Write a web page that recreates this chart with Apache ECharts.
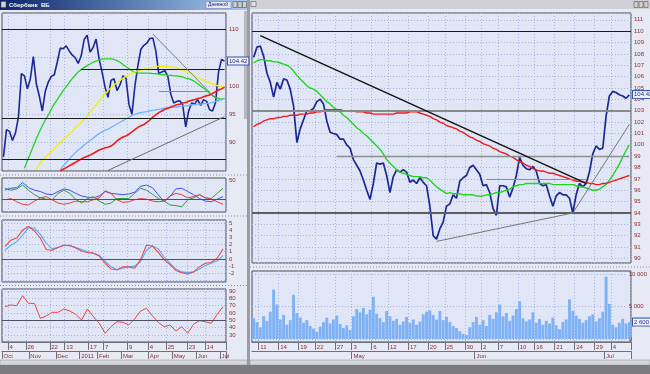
<!DOCTYPE html>
<html>
<head>
<meta charset="utf-8">
<script src="https://cdn.jsdelivr.net/npm/echarts@6/dist/echarts.min.js"></script>
<style>
html,body{margin:0;padding:0;background:#e6e9f4;overflow:hidden}
#chart{width:650px;height:374px}
</style>
</head>
<body>
<div id="chart"></div>
<script>
// ================= DATA =================
// Left window: daily, Oct 2010 - Jul 2011 (one point ~ 2.5 trading days)
const leftPrice = [87.5,92.3,92.0,90.4,91.7,94.5,102.2,101.8,99.5,101.3,
105.2,100.4,98.2,95.6,99.1,100.7,101.7,102.0,104.2,106.7,
106.6,107.1,106.2,105.5,105.0,104.0,105.3,108.2,109.0,106.0,
106.8,108.3,104.8,102.5,99.8,98.0,101.0,101.3,99.2,100.2,
101.8,101.4,96.8,95.0,100.0,103.6,106.5,107.2,107.6,108.4,
108.5,106.2,102.2,102.5,102.7,101.8,98.6,97.0,97.3,97.4,
96.7,92.8,95.6,97.0,96.8,97.6,96.6,97.6,97.3,95.8,
95.6,97.1,102.5,104.7,104.4];
const leftMaGreen = [null,null,null,null,null,null,null,
85.5,86.8,88.1,89.4,90.7,91.9,93.0,94.0,94.9,95.9,
96.8,97.6,98.4,99.2,99.9,100.6,101.3,101.9,102.5,102.9,
103.3,103.6,103.9,104.2,104.4,104.6,104.8,104.8,104.8,104.8,
104.7,104.5,104.2,103.8,103.4,103.1,102.7,102.4,102.3,102.3,
102.3,102.3,102.3,102.2,102.2,102.1,102.0,102.0,101.9,101.9,
101.8,101.8,101.7,101.6,101.4,101.3,101.1,100.8,100.4,100.0,
99.6,99.2,98.7,98.3,98.0,97.8,97.7,97.8];
const leftMaYellow = [null,null,null,null,null,null,null,null,null,null,null,
85.3,86.2,86.9,87.4,87.9,88.4,88.9,89.5,90.0,90.5,
91.0,91.5,92.0,92.6,93.1,93.6,94.1,94.7,95.4,96.0,
96.7,97.3,98.0,98.6,99.2,99.7,100.2,100.6,101.0,101.4,
101.7,102.0,102.3,102.5,102.7,102.8,103.0,103.1,103.2,103.3,
103.4,103.5,103.5,103.5,103.4,103.4,103.3,103.2,103.0,102.8,
102.6,102.4,102.2,101.9,101.6,101.3,101.0,100.8,100.6,100.4,
100.2,100.0,99.9,99.8];
const leftMaBlue = [null,null,null,null,null,null,null,null,null,null,
null,null,null,null,null,null,null,null,null,
85.2,85.9,86.5,87.1,87.7,88.2,88.7,89.1,89.6,90.0,
90.4,90.8,91.2,91.6,91.9,92.2,92.4,92.7,93.0,93.3,
93.6,93.9,94.2,94.5,94.8,95.0,95.2,95.3,95.4,95.5,
95.6,95.7,95.8,95.9,96.0,96.1,96.2,96.2,96.3,96.3,
96.4,96.5,96.5,96.6,96.7,96.7,96.8,96.8,96.9,96.9,
97.0,97.1,97.3,97.5,97.6,97.8];
const leftMaRed = [null,null,null,null,null,null,null,null,null,null,
null,null,null,null,null,null,null,null,null,
85.0,85.3,85.6,85.9,86.2,86.5,86.8,87.1,87.4,87.6,
87.8,88.1,88.4,88.7,88.9,89.1,89.2,89.4,89.8,90.3,
90.7,91.0,91.2,91.5,91.9,92.3,92.7,93.0,93.2,93.6,
94.0,94.5,94.9,95.3,95.6,95.9,96.1,96.3,96.5,96.7,
96.8,97.0,97.1,97.3,97.5,97.6,97.8,97.9,98.1,98.3,
98.4,98.7,99.0,99.3,99.5,99.8];
const leftLast = 104.42;

// Left indicators (one point ~ 5 trading days)
const ind1Blue  = [34,37,38,46,38,34,32,28,27,32,36,34,29,25,23,22,25,32,29,28,27,28,31,40,42,38,27,16,24,36,37,32,27,21,17,16,20,24];
const ind1Green = [37,34,36,42,34,27,22,20,19,29,34,29,20,14,21,24,17,12,14,21,21,21,29,37,34,28,21,17,11,10,8,19,22,27,22,21,29,37];
const ind1Red   = [19,21,16,12,11,17,22,24,19,14,12,14,17,16,16,19,22,33,29,19,15,16,19,21,20,17,16,17,25,29,27,22,24,27,22,20,16,12];
const ind2Red  = [1.7,2.6,2.9,4.0,4.5,3.9,2.9,1.3,1.2,1.6,1.9,1.9,1.5,1.1,0.9,0.8,0.4,-0.6,-1.4,-1.5,-1.1,-1.1,-1.3,-0.1,1.9,1.8,0.9,-0.1,-0.8,-1.6,-1.9,-2.1,-1.8,-1.1,-0.6,-0.5,0.1,1.4];
const ind2Blue = [1.2,1.9,2.4,3.3,4.3,4.3,3.4,2.2,1.4,1.6,1.9,1.8,1.6,1.3,1.0,0.8,0.5,-0.3,-1.1,-1.5,-1.3,-1.1,-1.0,-0.4,1.2,1.8,1.4,0.3,-0.6,-1.4,-1.8,-1.9,-1.8,-1.4,-0.9,-0.6,-0.3,0.5];
const ind3Rsi  = [68.6,70.9,70.0,83.6,73.2,73.0,52.7,55.9,60.9,60.9,65.4,62.7,58.2,50.4,65.4,55.0,45.9,32.3,41.3,48.1,47.3,43.6,51.8,62.7,66.4,56.3,47.3,41.3,43.6,35.4,41.3,32.3,44.6,49.5,48.1,45.9,58.2,68.6];

const leftDayIdx  = [2,8,16,21,29,34,42,49,55,62,68];
const leftDayText = ['4','26','22','13','17','7','9','4','25','23','14'];
const leftMonthIdx  = [0,9,18,26,32,40,49,57,65,73];
const leftMonthText = ['Oct','Nov','Dec','2011','Feb','Mar','Apr','May','Jun','Jul'];

// Right window: intraday, Apr 11 - Jul 5 2011
const rightPrice = [107.7,108.6,108.7,107.8,106.3,105.5,104.2,105.5,104.9,105.8,
105.7,104.9,103.4,100.2,101.4,102.2,103.0,103.0,103.2,103.8,
104.0,103.6,102.1,101.1,101.0,100.9,100.5,100.5,100.0,99.7,
98.7,98.2,97.7,96.9,96.0,95.2,96.6,98.4,98.3,98.4,
97.3,95.8,97.2,97.8,97.6,97.8,97.6,96.7,96.9,96.6,
97.1,96.7,96.4,94.6,92.0,91.7,92.6,93.2,94.6,94.8,
95.6,95.3,96.8,97.1,97.3,98.0,98.2,97.8,97.4,96.4,
96.5,95.8,94.4,93.8,96.4,96.4,96.3,95.4,96.2,97.3,
98.9,98.2,97.9,97.8,98.1,97.7,96.6,96.4,96.5,95.5,
94.6,95.5,95.8,95.6,95.6,95.3,94.0,95.6,96.6,96.3,
96.6,97.6,99.2,99.9,99.6,99.7,102.5,104.3,104.7,104.6,
104.4,104.3,104.1,104.4];
const rightMaGreen = [107.2,107.4,107.5,107.5,107.4,107.4,107.3,107.3,107.2,107.1,
107.0,106.8,106.5,106.1,105.8,105.5,105.2,105.0,104.9,104.7,
104.4,104.1,103.8,103.6,103.3,103.1,102.9,102.6,102.4,102.1,
101.8,101.5,101.3,101.0,100.8,100.5,100.2,99.9,99.6,99.2,
98.7,98.4,98.1,97.8,97.6,97.5,97.4,97.3,97.2,97.2,
97.2,97.1,97.1,96.9,96.6,96.3,96.1,95.9,95.7,95.8,
95.7,95.7,95.7,95.6,95.6,95.6,95.6,95.5,95.5,95.5,
95.6,95.6,95.7,95.8,95.8,95.9,96.0,96.1,96.3,96.4,
96.5,96.5,96.6,96.6,96.6,96.6,96.6,96.6,96.6,96.6,
96.5,96.5,96.5,96.5,96.5,96.5,96.5,96.4,96.3,96.3,
96.2,96.1,96.0,96.0,96.1,96.3,96.5,96.9,97.3,97.8,
98.3,98.9,99.5,100.0];
const rightMaRed = [101.6,101.8,101.9,102.1,102.2,102.3,102.3,102.4,102.4,102.5,
102.5,102.6,102.6,102.6,102.7,102.7,102.7,102.8,102.8,102.9,
102.9,103.0,103.1,103.1,103.1,103.1,103.1,103.0,103.0,103.0,
103.0,102.9,102.9,102.9,102.8,102.8,102.7,102.7,102.7,102.7,
102.7,102.7,102.7,102.8,102.8,102.8,102.8,102.9,102.9,102.9,
102.8,102.7,102.6,102.5,102.3,102.2,102.0,101.9,101.7,101.6,
101.5,101.4,101.2,101.1,100.9,100.7,100.6,100.4,100.3,100.1,
100.0,99.9,99.7,99.6,99.4,99.3,99.2,99.0,98.9,98.7,
98.5,98.4,98.2,98.1,97.9,97.8,97.7,97.7,97.6,97.5,
97.5,97.4,97.3,97.2,97.1,97.0,96.9,96.8,96.8,96.7,
96.7,96.6,96.6,96.5,96.5,96.6,96.6,96.7,96.8,96.9,
97.0,97.1,97.2,97.3];
const rightVolume = [3200,2600,1800,3500,2800,4200,7600,5300,3000,3700,
2200,2900,6800,4000,3300,2500,2900,2000,1600,1100,
1900,2600,3300,2400,3000,3600,2300,1700,2100,1400,
3500,4600,4100,4800,3800,4500,6500,3900,3200,2600,
4300,3500,2800,3100,2200,2700,3400,2500,3000,2200,
2700,3800,4200,4400,3700,3000,4300,2900,3400,2600,
2000,1700,1200,800,600,1800,2600,3400,2200,2900,
2000,3700,3100,4100,5300,3500,4000,2800,3600,4600,
5800,3200,2700,3000,4100,2500,3100,2200,2800,2400,
3300,2100,1500,2600,3000,6100,4300,3600,3100,2500,
2900,3500,3800,2700,3200,4200,9600,5400,2200,1800,
2500,3100,2400,2600];
const rightLast = 104.42;
const volumeTicks = [0, 5000, 10000];

const rightDayIdx  = [2,8,14,19,25,30,36,41,47,53,58,64,69,74,80,85,91,97,103,108];
const rightDayText = ['11','14','19','22','27','3','6','12','17','20','25','30','2','7','10','16','21','24','29','4'];
const rightMonthIdx  = [30,67,106];
const rightMonthText = ['May','Jun','Jul'];

// ================= STYLE / BUILD =================
const FONT = 'Liberation Sans';
const LBL = '#8c2c2c';
const GL = '#aab5dc';
const PLOTBG = '#e1e6f7';
const BORDER = '#4a4a58';
const CLEAR = 'rgba(0,0,0,0)';

const leftCats = leftPrice.map((_, i) => 'L' + i);
const indCats = ind1Blue.map((_, i) => 'I' + i);
const rightCats = rightPrice.map((_, i) => 'R' + i);
const leftSplit = new Set(leftDayIdx);
const rightSplit = new Set(rightDayIdx);

function hx(gridIndex, cats, split) {
  return {
    type: 'category', gridIndex, data: cats, boundaryGap: true, position: 'bottom',
    axisLine: {show: false, onZero: false}, axisTick: {show: false}, axisLabel: {show: false},
    splitLine: split ? {show: true, interval: (i) => split.has(i), lineStyle: {color: GL, type: [1, 2], width: 1}} : {show: false}
  };
}
function lx(gridIndex, cats, idxArr, txtArr, offset, split) {
  const s = new Set(idxArr);
  return {
    type: 'category', gridIndex, data: cats, boundaryGap: true, position: 'bottom', offset,
    axisLine: {show: true, onZero: false, lineStyle: {color: '#707078', width: 1}},
    axisTick: {show: true, interval: (i) => s.has(i), length: 8, inside: false, lineStyle: {color: '#707078'}},
    axisLabel: {show: true, interval: (i) => s.has(i), margin: 2, align: 'left', fontSize: 6, fontFamily: FONT, color: LBL,
      formatter: (v, i) => { const p = idxArr.indexOf(i); return p >= 0 ? txtArr[p] : ''; }},
    splitLine: split ? {show: true, interval: (i) => split.has(i), lineStyle: {color: GL, type: [1, 2], width: 1}} : {show: false}
  };
}
function gy(gridIndex, o, fmt, extra) {
  return Object.assign({
    type: 'value', gridIndex, position: 'right',
    axisLine: {show: false}, axisTick: {show: false},
    axisLabel: {fontSize: 6, fontFamily: FONT, color: LBL, margin: 3, showMinLabel: false, showMaxLabel: false, formatter: fmt},
    splitLine: {show: true, lineStyle: {color: GL, type: [1, 2], width: 1}}
  }, o, extra || {});
}
const thin = (v) => String(v).replace(/\B(?=(\d{3})+(?!\d))/g, ' ');

const boxLabel = {show: true, position: 'end', distance: 2, fontSize: 6, fontFamily: FONT,
  color: '#1a2a8a', backgroundColor: '#eef2ff', borderColor: '#3355aa', borderWidth: 1, padding: [1, 1, 0, 1]};
function lastBox(value, text) {
  return {yAxis: value, lineStyle: {color: CLEAR, width: 1}, label: Object.assign({}, boxLabel, {formatter: text})};
}
const seg = (x1, y1, x2, y2, color, width) => [{coord: [x1, y1], lineStyle: {color, width, type: 'solid'}}, {coord: [x2, y2]}];
const hl = (v, color, width) => ({yAxis: v, lineStyle: {color, width, type: 'solid'}});

function line(name, xi, yi, data, color, width, extra) {
  return Object.assign({name, type: 'line', xAxisIndex: xi, yAxisIndex: yi, data, showSymbol: false, symbol: 'none',
    connectNulls: false, animation: false, lineStyle: {color, width}, itemStyle: {color}}, extra || {});
}

const option = {
  backgroundColor: '#e7eaf5',
  animation: false,
  textStyle: {fontFamily: FONT},
  grid: [
    {left: 2, top: 13, width: 224, height: 158},
    {left: 2, top: 178, width: 224, height: 34},
    {left: 2, top: 220, width: 224, height: 62},
    {left: 2, top: 289, width: 224, height: 53},
    {left: 252, top: 13, width: 379, height: 250},
    {left: 252, top: 271, width: 379, height: 71}
  ].map(g => Object.assign(g, {show: true, backgroundColor: PLOTBG, borderColor: BORDER, borderWidth: 1}))
   .concat([{left: 252, top: 274, width: 379, height: 65, show: false}]),
  xAxis: [
    hx(0, leftCats, leftSplit),
    hx(1, leftCats, leftSplit),
    hx(2, leftCats, leftSplit),
    hx(3, leftCats, leftSplit),
    hx(1, indCats, null),
    hx(2, indCats, null),
    hx(3, indCats, null),
    lx(3, leftCats, leftDayIdx, leftDayText, 0, null),
    lx(3, leftCats, leftMonthIdx, leftMonthText, 9, null),
    hx(4, rightCats, rightSplit),
    lx(5, rightCats, rightDayIdx, rightDayText, 0, rightSplit),
    lx(5, rightCats, rightMonthIdx, rightMonthText, 9, null),
    hx(6, rightCats, null)
  ],
  yAxis: [
    gy(0, {min: 85, max: 112.9, interval: 5}, (v) => ([90, 95, 100, 110].includes(v) ? String(v) : '')),
    gy(1, {min: 0, max: 53, interval: 50}, (v) => (v === 50 ? '50' : ''), {splitLine: {show: false}}),
    gy(2, {min: -3.2, max: 5.4, splitNumber: 8}, (v) => (v === -3 ? '' : String(v))),
    gy(3, {min: 20.4, max: 92.7, splitNumber: 7}, (v) => String(v)),
    gy(4, {min: 89.6, max: 111.6, splitNumber: 22}, (v) => String(v)),
    gy(5, {min: -460, max: 10460}, (v) => '', {axisLabel: {show: false}, splitLine: {show: false}}),
    gy(6, {min: volumeTicks[0], max: volumeTicks[2], interval: volumeTicks[1]}, (v) => thin(v),
      {axisLabel: {fontSize: 6, fontFamily: FONT, color: LBL, margin: 2, showMinLabel: true, showMaxLabel: true, formatter: (v) => thin(v)}})
  ],
  series: [
    // ---- left main ----
    line('Сбербанк', 0, 0, leftPrice, '#1c2796', 1.6, {z: 3,
      markLine: {silent: true, symbol: 'none', animation: false, label: {show: false},
        data: [
          hl(110, '#1a1a1a', 1.2), hl(94.4, '#1a1a1a', 1.2), hl(87, '#1a1a1a', 1.2),
          seg(26, 102.9, 74, 102.9, '#1a1a1a', 1.2),
          seg(52, 99.1, 69, 99.1, '#8a8a8a', 1),
          seg(50, 109.2, 72, 97.3, '#7a7a7a', 1),
          seg(35, 85.1, 74, 94.6, '#6a6a6a', 1),
          lastBox(leftLast, '104.42')
        ]}}),
    line('MA green', 0, 0, leftMaGreen, '#22d422', 1.3, {z: 4}),
    line('MA yellow', 0, 0, leftMaYellow, '#f2f200', 1.3, {z: 4}),
    line('MA light', 0, 0, leftMaBlue, '#6cb4ff', 1.3, {z: 4}),
    line('MA red', 0, 0, leftMaRed, '#ee1c1c', 1.6, {z: 4}),
    // ---- indicator 1 ----
    line('DI+', 4, 1, ind1Blue, '#4050f0', 1, {
      markLine: {silent: true, symbol: 'none', animation: false, label: {show: false}, data: [hl(20, '#505060', 1)]}}),
    line('DI-', 4, 1, ind1Green, '#2e9a3e', 1),
    line('ADX', 4, 1, ind1Red, '#e83a3a', 1),
    // ---- indicator 2 ----
    line('MACD', 5, 2, ind2Red, '#f04848', 1.1, {z: 4,
      markLine: {silent: true, symbol: 'none', animation: false, label: {show: false}, data: [hl(0, '#505060', 1)]}}),
    line('Signal', 5, 2, ind2Blue, '#55aaff', 1.1),
    // ---- indicator 3 ----
    line('RSI', 6, 3, ind3Rsi, '#e84444', 1, {
      markLine: {silent: true, symbol: 'none', animation: false, label: {show: false}, data: [hl(50, '#505060', 1)]}}),
    // ---- right main ----
    line('Сбербанк intraday', 9, 4, rightPrice, '#1c2796', 1.7, {z: 3,
      markLine: {silent: true, symbol: 'none', animation: false, label: {show: false},
        data: [
          hl(110, '#1a1a1a', 1.2), hl(103, '#8a8a8a', 1.8), hl(94, '#5e5e5e', 2.2),
          seg(25, 99, 113, 99, '#8e8e8e', 1.4),
          seg(70, 97, 100, 97, '#8e8e8e', 1),
          seg(2, 109.6, 100, 96.6, '#111111', 1.4),
          seg(55, 91.5, 96, 94.0, '#777777', 1),
          seg(96, 94.0, 113, 101.8, '#777777', 1),
          lastBox(rightLast, '104.42')
        ]}}),
    line('MA green R', 9, 4, rightMaGreen, '#22d422', 1.4, {z: 4}),
    line('MA red R', 9, 4, rightMaRed, '#ee1c1c', 1.4, {z: 4}),
    // ---- volume ----
    {name: 'Объём', type: 'bar', xAxisIndex: 10, yAxisIndex: 5, data: rightVolume, barCategoryGap: '12%',
      itemStyle: {color: '#7fb2f5'}, animation: false,
      markLine: {silent: true, symbol: 'none', animation: false, label: {show: false},
        data: [{yAxis: rightVolume[rightVolume.length - 1], lineStyle: {color: CLEAR, width: 1},
          label: Object.assign({}, boxLabel, {formatter: (p) => thin(p.value)})}]}}
  ],
  graphic: [
    // left window title bar
    {type: 'rect', shape: {x: 0, y: 0, width: 247, height: 10},
      style: {fill: new echarts.graphic.LinearGradient(0, 0, 1, 0, [{offset: 0, color: '#0a246a'}, {offset: 1, color: '#a6caf0'}])}},
    {type: 'rect', shape: {x: 1, y: 1.5, width: 5, height: 6}, style: {fill: '#d4d0c8', stroke: '#404040', lineWidth: 0.5}},
    {type: 'text', x: 9, y: 2, style: {text: 'Сбербанк  ВБ', fill: '#ffffff', font: 'bold 6px Liberation Sans'}},
    {type: 'rect', shape: {x: 206, y: 1.5, width: 25, height: 7}, style: {fill: '#e8e8f0', stroke: '#6070a0', lineWidth: 0.5}},
    {type: 'text', x: 208, y: 2.5, style: {text: 'Дневной', fill: '#1a2a8a', font: '5px Liberation Sans'}},
    {type: 'rect', shape: {x: 233, y: 1.5, width: 4, height: 6}, style: {fill: '#d4d0c8', stroke: '#404040', lineWidth: 0.5}},
    {type: 'rect', shape: {x: 238, y: 1.5, width: 4, height: 6}, style: {fill: '#d4d0c8', stroke: '#404040', lineWidth: 0.5}},
    {type: 'rect', shape: {x: 242.5, y: 1.5, width: 4, height: 6}, style: {fill: '#d4d0c8', stroke: '#404040', lineWidth: 0.5}},
    // left scroll strip
    {type: 'rect', shape: {x: 244, y: 11, width: 3, height: 108}, style: {fill: '#b8b8c4'}},
    // panel separators
    {type: 'line', shape: {x1: 0, y1: 175, x2: 247, y2: 175}, style: {stroke: '#8a8aa8', lineWidth: 1, lineDash: [1, 2]}},
    {type: 'line', shape: {x1: 0, y1: 216, x2: 247, y2: 216}, style: {stroke: '#8a8aa8', lineWidth: 1, lineDash: [1, 2]}},
    {type: 'line', shape: {x1: 0, y1: 285.5, x2: 247, y2: 285.5}, style: {stroke: '#8a8aa8', lineWidth: 1, lineDash: [1, 2]}},
    {type: 'line', shape: {x1: 250, y1: 267, x2: 650, y2: 267}, style: {stroke: '#8a8aa8', lineWidth: 1, lineDash: [1, 2]}},
    // window separator
    {type: 'rect', shape: {x: 247, y: 0, width: 3, height: 374}, style: {fill: '#9c9ca4'}},
    // right window title bar
    {type: 'rect', shape: {x: 250, y: 0, width: 400, height: 9}, style: {fill: '#d0d0d8'}},
    {type: 'rect', shape: {x: 251, y: 1.5, width: 5, height: 5}, style: {fill: '#e0e0e8', stroke: '#404040', lineWidth: 0.5}},
    {type: 'rect', shape: {x: 634, y: 1.5, width: 4, height: 6}, style: {fill: '#d4d0c8', stroke: '#404040', lineWidth: 0.5}},
    {type: 'rect', shape: {x: 639, y: 1.5, width: 4, height: 6}, style: {fill: '#d4d0c8', stroke: '#404040', lineWidth: 0.5}},
    {type: 'rect', shape: {x: 644, y: 1.5, width: 4, height: 6}, style: {fill: '#d4d0c8', stroke: '#404040', lineWidth: 0.5}},
    // bottom scrollbars and frame
    {type: 'rect', shape: {x: 0, y: 360, width: 247, height: 5}, style: {fill: '#d6d6de', stroke: '#9090a0', lineWidth: 0.5}},
    {type: 'rect', shape: {x: 250, y: 360, width: 400, height: 5}, style: {fill: '#d6d6de', stroke: '#9090a0', lineWidth: 0.5}},
    {type: 'rect', shape: {x: 0, y: 365, width: 650, height: 9}, style: {fill: '#7c7c80'}}
  ]
};

const chart = echarts.init(document.getElementById('chart'), null, {renderer: 'canvas'});
chart.setOption(option);
</script>
</body>
</html>
